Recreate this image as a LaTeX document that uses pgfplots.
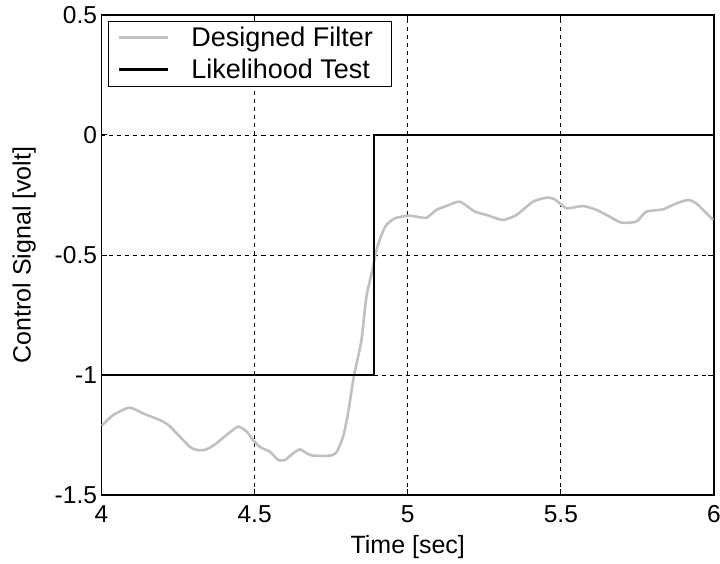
\documentclass[border=0pt]{standalone}
\usepackage{pgfplots}
\pgfplotsset{compat=1.18}
\usepackage{fontspec}
\setmainfont{Liberation Sans}
\definecolor{filtgray}{RGB}{192,192,192}
\begin{document}
\begin{tikzpicture}
\begin{axis}[
    at={(0pt,0pt)}, anchor=south west,
    scale only axis,
    width=612.5pt, height=480pt,
    xmin=4, xmax=6, ymin=-1.5, ymax=0.5,
    xtick={4,4.5,5,5.5,6},
    xticklabels={4,4.5,5,5.5,6},
    ytick={-1.5,-1,-0.5,0,0.5},
    yticklabels={-1.5,-1,-0.5,0,0.5},
    tick align=inside,
    major tick length=6pt,
    tick style={black, line width=1pt},
    axis line style={black, line width=1.3pt},
    grid=major,
    major grid style={black, line width=0.9pt, dash pattern=on 4pt off 4pt},
    ticklabel style={font=\fontsize{24.5}{29}\selectfont},
    xticklabel style={yshift=-7pt},
    yticklabel style={xshift=-1pt},
    label style={font=\fontsize{25}{30}\selectfont},
    xlabel={Time [sec]},
    ylabel={Control Signal [volt]},
    xlabel style={yshift=-6pt},
    ylabel style={yshift=12pt},
    legend cell align=left,
    legend style={at={(axis description cs:0.0106,0.988)}, anchor=north west,
        draw=black, line width=1pt, inner xsep=9pt, inner ysep=4pt,
        font=\fontsize{27}{31}\selectfont,
        nodes={inner sep=2pt}, column sep=20pt, row sep=7pt},
    legend image code/.code={\draw[#1] (0pt,0pt) -- (49pt,0pt);},
]
% Designed Filter
\addplot[filtgray, line width=2.6pt, line join=round, smooth, tension=0.35] coordinates {
    (4.000,-1.212) (4.038,-1.167) (4.091,-1.136) (4.136,-1.160)
    (4.191,-1.188) (4.218,-1.208) (4.256,-1.257) (4.289,-1.300)
    (4.311,-1.312) (4.338,-1.312) (4.370,-1.290) (4.408,-1.250)
    (4.446,-1.215) (4.474,-1.236) (4.495,-1.271) (4.517,-1.300)
    (4.550,-1.320) (4.577,-1.354) (4.599,-1.354) (4.626,-1.326)
    (4.648,-1.310) (4.670,-1.326) (4.691,-1.336) (4.745,-1.336)
    (4.767,-1.323) (4.789,-1.257) (4.805,-1.160) (4.822,-1.020)
    (4.833,-0.951) (4.849,-0.854) (4.865,-0.674) (4.882,-0.576)
    (4.898,-0.479) (4.914,-0.417) (4.930,-0.375) (4.958,-0.347)
    (5.001,-0.336) (5.028,-0.340) (5.061,-0.345) (5.094,-0.312)
    (5.126,-0.296) (5.170,-0.278) (5.219,-0.319) (5.257,-0.333)
    (5.311,-0.354) (5.355,-0.333) (5.409,-0.278) (5.453,-0.261)
    (5.480,-0.268) (5.518,-0.305) (5.572,-0.296) (5.616,-0.312)
    (5.659,-0.340) (5.697,-0.365) (5.746,-0.361) (5.779,-0.319)
    (5.833,-0.310) (5.877,-0.285) (5.915,-0.271) (5.942,-0.285)
    (5.997,-0.354)
};
\addlegendentry{Designed Filter\hspace*{8pt}}
% Likelihood Test
\addplot[black, line width=2.8pt] coordinates {
    (4,-1) (4.89,-1) (4.89,0) (6,0)
};
\addlegendentry{Likelihood Test}
\end{axis}
\pgfresetboundingbox
\path[use as bounding box] (-101.5pt,-68pt) rectangle (618.5pt,495pt);
\end{tikzpicture}
\end{document}
